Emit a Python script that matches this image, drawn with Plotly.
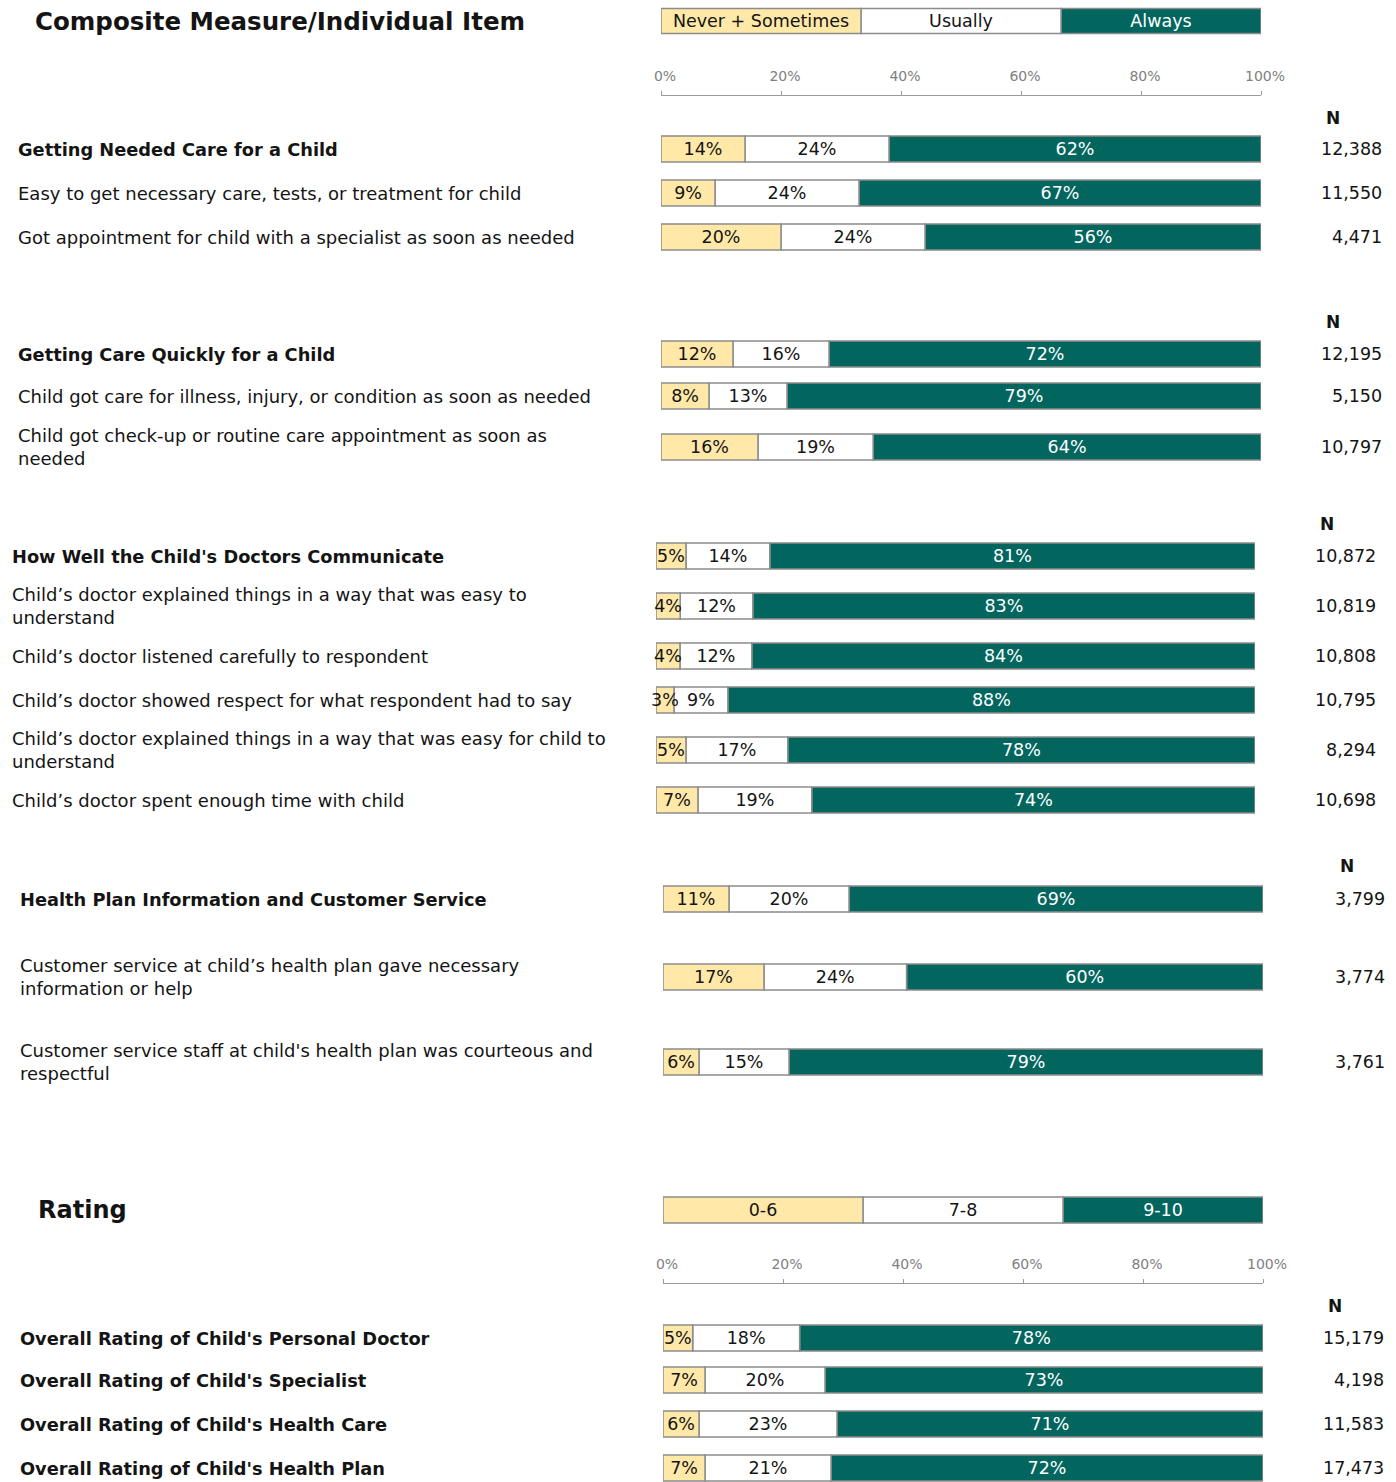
import plotly.graph_objects as go

# ---------------- DATA ----------------
legend_cats = ["Never + Sometimes", "Usually", "Always"]
rating_cats = ["0-6", "7-8", "9-10"]
tick_vals = [0, 20, 40, 60, 80, 100]
tick_text = ["0%", "20%", "40%", "60%", "80%", "100%"]

sec1_labels = ["Getting Needed Care for a Child",
               "Easy to get necessary care, tests, or treatment for child",
               "Got appointment for child with a specialist as soon as needed"]
sec1_never = [14, 9, 20]
sec1_usually = [24, 24, 24]
sec1_always = [62, 67, 56]
sec1_n = ["12,388", "11,550", "4,471"]

sec2_labels = ["Getting Care Quickly for a Child",
               "Child got care for illness, injury, or condition as soon as needed",
               "Child got check-up or routine care appointment as soon as<br>needed"]
sec2_never = [12, 8, 16]
sec2_usually = [16, 13, 19]
sec2_always = [72, 79, 64]
sec2_n = ["12,195", "5,150", "10,797"]

sec3_labels = ["How Well the Child's Doctors Communicate",
               "Child\u2019s doctor explained things in a way that was easy to<br>understand",
               "Child\u2019s doctor listened carefully to respondent",
               "Child\u2019s doctor showed respect for what respondent had to say",
               "Child\u2019s doctor explained things in a way that was easy for child to<br>understand",
               "Child\u2019s doctor spent enough time with child"]
sec3_never = [5, 4, 4, 3, 5, 7]
sec3_usually = [14, 12, 12, 9, 17, 19]
sec3_always = [81, 83, 84, 88, 78, 74]
sec3_n = ["10,872", "10,819", "10,808", "10,795", "8,294", "10,698"]

sec4_labels = ["Health Plan Information and Customer Service",
               "Customer service at child\u2019s health plan gave necessary<br>information or help",
               "Customer service staff at child's health plan was courteous and<br>respectful"]
sec4_never = [11, 17, 6]
sec4_usually = [20, 24, 15]
sec4_always = [69, 60, 79]
sec4_n = ["3,799", "3,774", "3,761"]

rating_labels = ["Overall Rating of Child's Personal Doctor",
                 "Overall Rating of Child's Specialist",
                 "Overall Rating of Child's Health Care",
                 "Overall Rating of Child's Health Plan"]
rating_low = [5, 7, 6, 7]
rating_mid = [18, 20, 23, 21]
rating_high = [78, 73, 71, 72]
rating_n = ["15,179", "4,198", "11,583", "17,473"]

# ---------------- LAYOUT / STYLE ----------------
W, H = 1396, 1482
TAN, WHITE, TEAL = "#FFE8A8", "#FFFFFF", "#02665F"
EDGE = "#8c8c8c"
FONT = "DejaVu Sans"
TXT = "#141414"
BAR_H = 26

sections = [
    dict(labels=sec1_labels, a=sec1_never, b=sec1_usually, c=sec1_always, n=sec1_n,
         ys=[149, 193, 237], ax="x", lx=16, nx=1384, nhx=1333, nhy=118,
         bold=[True, False, False]),
    dict(labels=sec2_labels, a=sec2_never, b=sec2_usually, c=sec2_always, n=sec2_n,
         ys=[354, 396, 447], ax="x", lx=16, nx=1384, nhx=1333, nhy=322,
         bold=[True, False, False]),
    dict(labels=sec3_labels, a=sec3_never, b=sec3_usually, c=sec3_always, n=sec3_n,
         ys=[556, 606, 656, 700, 750, 800], ax="x2", lx=10, nx=1378, nhx=1327, nhy=524,
         bold=[True, False, False, False, False, False]),
    dict(labels=sec4_labels, a=sec4_never, b=sec4_usually, c=sec4_always, n=sec4_n,
         ys=[899, 977, 1062], ax="x3", lx=18, nx=1387, nhx=1347, nhy=866,
         bold=[True, False, False]),
    dict(labels=rating_labels, a=rating_low, b=rating_mid, c=rating_high, n=rating_n,
         ys=[1338, 1380, 1424, 1468], ax="x3", lx=18, nx=1386, nhx=1335, nhy=1306,
         bold=[True, True, True, True]),
]

fig = go.Figure()


def add_stack(a, b, c, ys, ax, texts_a, texts_b, texts_c, height):
    # each bar is shown as a 100% stacked bar (shares normalised to the row total)
    tot = [p + q + r for p, q, r in zip(a, b, c)]
    wa = [p / t * 100 for p, t in zip(a, tot)]
    wb = [q / t * 100 for q, t in zip(b, tot)]
    wc = [r / t * 100 for r, t in zip(c, tot)]
    base_b = wa
    base_c = [p + q for p, q in zip(wa, wb)]
    common = dict(orientation="h", y=ys, width=height, xaxis=ax, yaxis="y",
                  textposition="inside", insidetextanchor="middle", textangle=0,
                  constraintext="none", hoverinfo="skip", showlegend=False,
                  cliponaxis=False)
    # teal first, then white, then tan so small tan labels stay on top
    fig.add_trace(go.Bar(x=wc, base=base_c, text=texts_c,
                         marker=dict(color=TEAL, line=dict(color=EDGE, width=1.5)),
                         textfont=dict(family=FONT, size=17.5, color="white"), **common))
    fig.add_trace(go.Bar(x=wb, base=base_b, text=texts_b,
                         marker=dict(color=WHITE, line=dict(color=EDGE, width=1.5)),
                         textfont=dict(family=FONT, size=17.5, color=TXT), **common))
    fig.add_trace(go.Bar(x=wa, base=[0] * len(wa), text=texts_a,
                         marker=dict(color=TAN, line=dict(color=EDGE, width=1.5)),
                         textfont=dict(family=FONT, size=17.5, color=TXT), **common))


# legend keys (three equal blocks)
key_share = [1]
add_stack(key_share, key_share, key_share, [21], "x",
          [legend_cats[0]], [legend_cats[1]], [legend_cats[2]], 25)
add_stack(key_share, key_share, key_share, [1210], "x3",
          [rating_cats[0]], [rating_cats[1]], [rating_cats[2]], 26)

annotations = []
for s in sections:
    add_stack(s["a"], s["b"], s["c"], s["ys"], s["ax"],
              [f"{v}%" for v in s["a"]], [f"{v}%" for v in s["b"]],
              [f"{v}%" for v in s["c"]], BAR_H)
    for lab, y, bold, n in zip(s["labels"], s["ys"], s["bold"], s["n"]):
        txt = f"<b>{lab}</b>" if bold else lab
        annotations.append(dict(text=txt, x=s["lx"] / W, xref="paper", y=y, yref="y",
                                xanchor="left", yanchor="middle", align="left",
                                showarrow=False,
                                font=dict(family=FONT, size=17.8 if bold else 18, color=TXT)))
        annotations.append(dict(text=n, x=s["nx"] / W, xref="paper", y=y, yref="y",
                                xanchor="right", yanchor="middle", showarrow=False,
                                font=dict(family=FONT, size=17.5, color=TXT)))
    annotations.append(dict(text="<b>N</b>", x=s["nhx"] / W, xref="paper", y=s["nhy"],
                            yref="y", xanchor="center", yanchor="middle", showarrow=False,
                            font=dict(family=FONT, size=17, color=TXT)))

annotations.append(dict(text="<b>Composite Measure/Individual Item</b>", x=33 / W,
                        xref="paper", y=21, yref="y", xanchor="left", yanchor="middle",
                        showarrow=False, font=dict(family=FONT, size=24.5, color=TXT)))
annotations.append(dict(text="<b>Rating</b>", x=36 / W, xref="paper", y=1210, yref="y",
                        xanchor="left", yanchor="middle", showarrow=False,
                        font=dict(family=FONT, size=24, color=TXT)))

tick_axis = dict(range=[0, 100], showgrid=False, zeroline=False, showline=True,
                 linecolor="#9a9a9a", linewidth=1, ticks="outside", ticklen=4,
                 tickcolor="#9a9a9a", tickvals=tick_vals, ticktext=tick_text,
                 tickfont=dict(family=FONT, size=14, color="#808080"),
                 ticklabelstandoff=4, ticklabelshift=4, automargin=False,
                 side="top", anchor="free", fixedrange=True)

fig.update_layout(
    width=W, height=H, autosize=False,
    margin=dict(l=0, r=0, t=0, b=0, pad=0, autoexpand=False),
    paper_bgcolor="white", plot_bgcolor="rgba(0,0,0,0)",
    barmode="overlay",
    uniformtext=dict(minsize=17.5, mode="show"),
    showlegend=False,
    xaxis=dict(domain=[661 / W, 1261 / W], position=1 - 95 / H, **tick_axis),
    xaxis2=dict(domain=[656 / W, 1255 / W], range=[0, 100], visible=False,
                anchor="y", fixedrange=True, automargin=False),
    xaxis3=dict(domain=[663 / W, 1263 / W], position=1 - 1283 / H, **tick_axis),
    yaxis=dict(range=[H, 0], domain=[0, 1], visible=False, anchor="x", fixedrange=True,
               automargin=False),
    annotations=annotations,
)

post = ("document.documentElement.style.margin='0';"
        "document.body.style.margin='0';document.body.style.padding='0';"
        "document.documentElement.style.overflow='hidden';"
        "document.body.style.overflow='hidden';")

fig.write_html("out.html", post_script=post, config={"displayModeBar": False})
